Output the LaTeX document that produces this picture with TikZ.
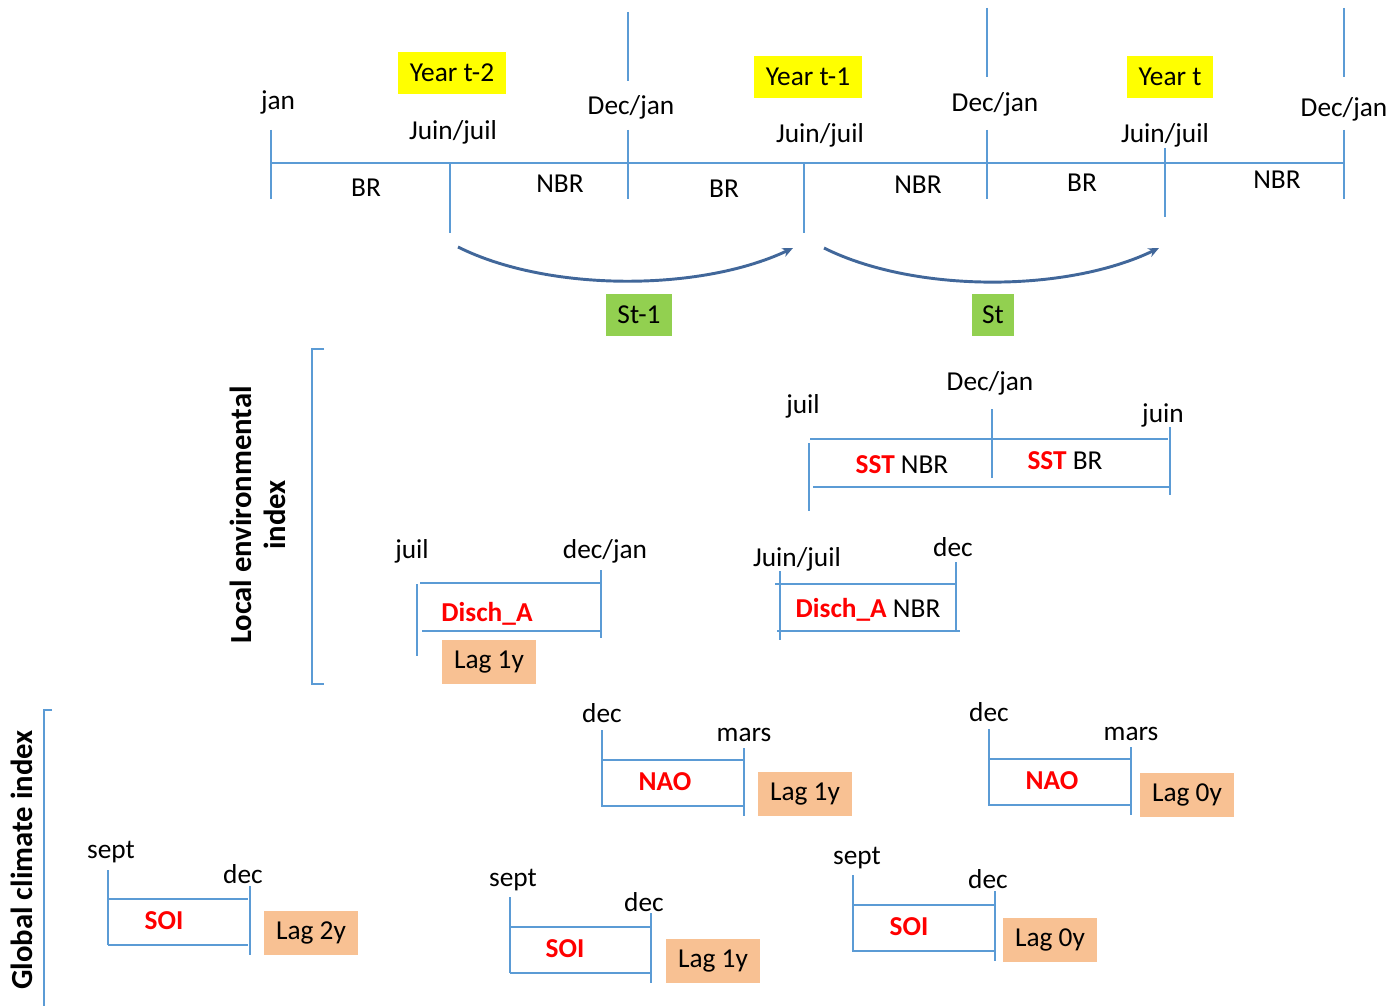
\documentclass[tikz,border=0pt]{standalone}
\usepackage{fontspec}
\setmainfont{Carlito}
\usetikzlibrary{arrows.meta}
\definecolor{tl}{HTML}{5B9BD5}
\definecolor{arr}{HTML}{41679A}
\definecolor{yel}{HTML}{FFFF00}
\definecolor{grn}{HTML}{92D050}
\definecolor{org}{HTML}{F8C193}
\tikzset{
  lbl/.style={font=\fontsize{20.5}{24}\selectfont, inner sep=0pt, yshift=-1.5pt},
  idx/.style={font=\fontsize{20.5}{24}\selectfont\bfseries, text=red, inner sep=0pt, yshift=-1.5pt},
  ttl/.style={font=\fontsize{23}{26}\selectfont\bfseries, rotate=90, align=center, inner sep=0pt},
  ybox/.style={fill=yel, font=\fontsize{20.5}{24}\selectfont, minimum height=32pt, inner sep=0pt},
  gbox/.style={fill=grn, font=\fontsize{20.5}{24}\selectfont, minimum height=32pt, inner sep=0pt},
  obox/.style={fill=org, font=\fontsize{20.5}{24}\selectfont, minimum width=70.5pt, minimum height=33pt, inner sep=0pt},
  tline/.style={draw=tl, line width=1.2pt},
  curve/.style={draw=arr, line width=2.2pt, -{Stealth[length=8pt,width=7pt]}}
}
\begin{document}
\begin{tikzpicture}[x=0.75pt,y=-0.75pt]
\useasboundingbox (0,0) rectangle (1390,1006);

% ---------- main timeline ----------
\draw[tline] (271,163) -- (1344,163);
\draw[tline] (271,130) -- (271,199);
\draw[tline] (450,163) -- (450,233);
\draw[tline] (628,12) -- (628,81);
\draw[tline] (628,130) -- (628,199);
\draw[tline] (804,163) -- (804,233);
\draw[tline] (987,8) -- (987,77);
\draw[tline] (987,130) -- (987,199);
\draw[tline] (1165,148) -- (1165,217);
\draw[tline] (1344,8) -- (1344,77);
\draw[tline] (1344,130) -- (1344,199);

\node[lbl] (jan) at (278,100) {jan};
\node[ybox, minimum width=81pt] (y2) at (452,73) {Year t-2};
\node[lbl] (jj1) at (453,130) {Juin/juil};
\node[lbl] (dj1) at (631,105) {Dec/jan};
\node[ybox, minimum width=81pt] (y1) at (808,77) {Year t-1};
\node[lbl] (jj2) at (820,133) {Juin/juil};
\node[lbl] (dj2) at (995,102) {Dec/jan};
\node[ybox, minimum width=64.5pt] (y0) at (1170,77) {Year t};
\node[lbl] (jj3) at (1165,133) {Juin/juil};
\node[lbl] (dj3) at (1344,107) {Dec/jan};

\node[lbl] (br1) at (366,186) {BR};
\node[lbl] (nbr1) at (560,182) {NBR};
\node[lbl] (br2) at (724,187) {BR};
\node[lbl] (nbr2) at (918,183) {NBR};
\node[lbl] (br3) at (1082,181) {BR};
\node[lbl] (nbr3) at (1277,178) {NBR};

% ---------- curved arrows ----------
\coordinate (c1s) at (458,247);
\coordinate (c1e) at (793,248);
\coordinate (c2s) at (824,248);
\coordinate (c2e) at (1159,248);
\draw[curve] (c1s) .. controls (548,292) and (700,292) .. (c1e);
\draw[curve] (c2s) .. controls (914,293) and (1066,293) .. (c2e);
\node[gbox, minimum width=49.5pt] (st1) at (639,315) {St-1};
\node[gbox, minimum width=32pt] (st) at (993,315) {St};

% ---------- local environmental index ----------
\draw[tline] (324,349) -- (312,349) -- (312,684) -- (324,684);
\node[ttl] (loc) at (258,515) {Local environmental\\index};

% SST
\node[lbl] (sj) at (803,404) {juil};
\node[lbl] (sdj) at (990,381) {Dec/jan};
\node[lbl] (sjn) at (1163,413) {juin};
\draw[tline] (810,439) -- (1168,439);
\draw[tline] (813,487) -- (1170,487);
\draw[tline] (809,443) -- (809,511);
\draw[tline] (992,409) -- (992,478);
\draw[tline] (1170,427) -- (1170,495);
\node[lbl] (sstn) at (902,463) {\textcolor{red}{\bfseries SST} NBR};
\node[lbl] (sstb) at (1065,459) {\textcolor{red}{\bfseries SST} BR};

% Disch_A
\node[lbl] (dj) at (412,549) {juil};
\node[lbl] (ddj) at (605,549) {dec/jan};
\draw[tline] (420,583) -- (601,583);
\draw[tline] (422,631) -- (601,631);
\draw[tline] (417,584) -- (417,656);
\draw[tline] (601,570) -- (601,638);
\node[idx] (disa) at (487,612) {Disch\_A};
\node[obox] (lagd) at (489,662) {Lag 1y};

% Disch_A NBR
\node[lbl] (nj) at (797,557) {Juin/juil};
\node[lbl] (nd) at (953,545) {dec};
\draw[tline] (775,584) -- (957,584);
\draw[tline] (777,631) -- (960,631);
\draw[tline] (780,571) -- (780,640);
\draw[tline] (956,562) -- (956,631);
\node[lbl] (disn) at (868,608) {\textcolor{red}{\bfseries Disch\_A} NBR};

% ---------- global climate index ----------
\draw[tline] (52,710) -- (44,710) -- (44,1006);
\node[ttl] (glo) at (22,860) {Global climate index};

% NAO 1
\node[lbl] (n1d) at (602,711) {dec};
\node[lbl] (n1m) at (744,733) {mars};
\draw[tline] (602,730) -- (602,807);
\draw[tline] (602,760) -- (743,760);
\draw[tline] (602,806) -- (743,806);
\draw[tline] (744,748) -- (744,816);
\node[idx] (nao1) at (665,780) {NAO};
\node[obox] (lagn1) at (805,794) {Lag 1y};

% NAO 2
\node[lbl] (n2d) at (989,710) {dec};
\node[lbl] (n2m) at (1131,732) {mars};
\draw[tline] (989,729) -- (989,806);
\draw[tline] (989,759) -- (1130,759);
\draw[tline] (989,805) -- (1130,805);
\draw[tline] (1131,747) -- (1131,815);
\node[idx] (nao2) at (1052,779) {NAO};
\node[obox] (lagn2) at (1187,795) {Lag 0y};

% SOI 1
\node[lbl] (s1s) at (111,850) {sept};
\node[lbl] (s1d) at (243,872) {dec};
\draw[tline] (108,870) -- (108,945);
\draw[tline] (108,899) -- (248,899);
\draw[tline] (108,945) -- (248,945);
\draw[tline] (250,886) -- (250,955);
\node[idx] (soi1) at (164,919) {SOI};
\node[obox] (lags1) at (311,933) {Lag 2y};

% SOI 2
\node[lbl] (s2s) at (513,878) {sept};
\node[lbl] (s2d) at (644,900) {dec};
\draw[tline] (510,897) -- (510,973);
\draw[tline] (510,927) -- (650,927);
\draw[tline] (510,973) -- (650,973);
\draw[tline] (651,913) -- (651,983);
\node[idx] (soi2) at (565,947) {SOI};
\node[obox] (lags2) at (713,961) {Lag 1y};

% SOI 3
\node[lbl] (s3s) at (857,856) {sept};
\node[lbl] (s3d) at (988,877) {dec};
\draw[tline] (853,875) -- (853,952);
\draw[tline] (853,905) -- (995,905);
\draw[tline] (853,951) -- (995,951);
\draw[tline] (995,891) -- (995,961);
\node[idx] (soi3) at (909,925) {SOI};
\node[obox] (lags3) at (1050,940) {Lag 0y};
\end{tikzpicture}
\end{document}
